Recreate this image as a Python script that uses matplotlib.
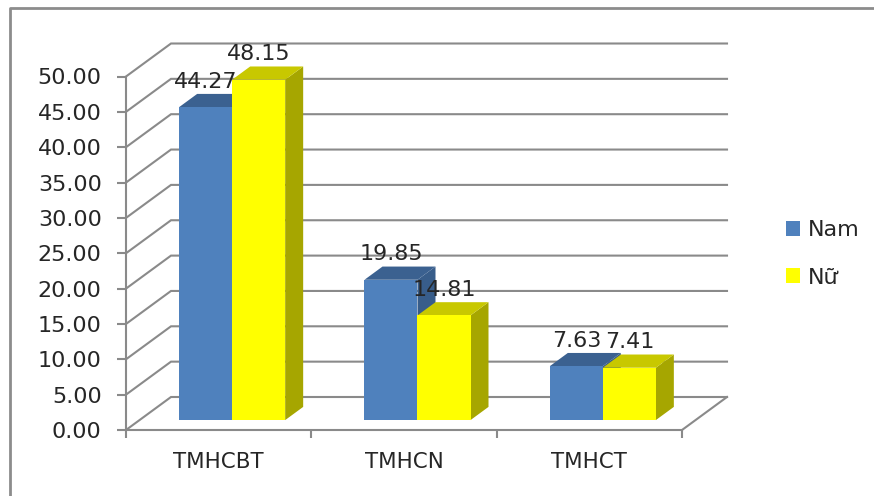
# 3D-style grouped columns: Nam / Nữ by category
import matplotlib
matplotlib.use("Agg")
from matplotlib import pyplot as plt
from matplotlib.lines import Line2D
from matplotlib.patches import Polygon, Patch

categories = ["TMHCBT", "TMHCN", "TMHCT"]
nam = [44.27, 19.85, 7.63]
nu = [48.15, 14.81, 7.41]
yticks = [0, 5, 10, 15, 20, 25, 30, 35, 40, 45, 50]

W, H = 874, 496
GRAY = "#8a8a8a"
TXT = "#262626"
FS = 16

fig = plt.figure(figsize=(W / 100, H / 100), dpi=100)
ax = fig.add_axes([126 / W, (H - 430) / H, 556 / W, 353.5 / H])
ax.set_xlim(0, 3)
ax.set_ylim(0, 50)

# oblique projection: depth d=1 is the back wall, 45px right and 33px up
px_x = 556 / 3
px_y = 353.5 / 50


def proj(x, v, d):
    return x + d * 45 / px_x, v + d * 33 / px_y


# walls and floor
for v in yticks:
    x0, y0 = proj(0, v, 0)
    x1, y1 = proj(0, v, 1)
    x2, y2 = proj(3, v, 1)
    ax.plot([x0, x1, x2], [y0, y1, y2], color=GRAY, lw=1.5, zorder=1, clip_on=False,
            solid_joinstyle="miter")
x0, y0 = proj(3, 0, 0)
x1, y1 = proj(3, 0, 1)
ax.plot([x0, x1], [y0, y1], color=GRAY, lw=1.5, zorder=1, clip_on=False)


def column(x, w, v, front, top, side):
    d0, d1 = 0.3, 0.7
    ax.add_patch(Polygon([proj(x + w, 0, d0), proj(x + w, 0, d1), proj(x + w, v, d1), proj(x + w, v, d0)],
                         fc=side, ec="none", zorder=3, clip_on=False))
    ax.add_patch(Polygon([proj(x, v, d0), proj(x + w, v, d0), proj(x + w, v, d1), proj(x, v, d1)],
                         fc=top, ec="none", zorder=3, clip_on=False))
    ax.add_patch(Polygon([proj(x, 0, d0), proj(x + w, 0, d0), proj(x + w, v, d0), proj(x, v, d0)],
                         fc=front, ec="none", zorder=3, clip_on=False))
    cx, cy = proj(x + w / 2, v, d0)
    ax.annotate(f"{v:.2f}", (cx, cy), xytext=(0, 18.4), textcoords="offset points",
                ha="center", va="center", fontsize=FS, color=TXT, zorder=5)


bar_w = 0.286
for i in range(len(categories)):
    column(i + 0.5 - bar_w, bar_w, nam[i], "#4f81bd", "#3b6190", "#385d8a")
    column(i + 0.5, bar_w, nu[i], "#ffff00", "#c8c800", "#a6a600")

# axes
for s in ["top", "right"]:
    ax.spines[s].set_visible(False)
for s in ["left", "bottom"]:
    ax.spines[s].set_color(GRAY)
    ax.spines[s].set_linewidth(1.5)
    ax.spines[s].set_zorder(2)
ax.patch.set_visible(False)

ax.set_yticks(yticks)
ax.set_yticklabels([f"{v:.2f}" for v in yticks])
ax.tick_params(axis="y", length=6.5, width=1.5, color=GRAY, pad=11, labelsize=FS, labelcolor=TXT)
ax.set_xticks([0, 1, 2, 3])
ax.set_xticklabels([])
ax.set_xticks([0.5, 1.5, 2.5], minor=True)
ax.set_xticklabels(categories, minor=True)
ax.tick_params(axis="x", which="major", length=6, width=1.5, color=GRAY)
ax.tick_params(axis="x", which="minor", length=0, pad=16, labelsize=FS - 0.6, labelcolor=TXT)

# outer chart border, only its top and left edges fall inside the image
fig.add_artist(Line2D([10 / W, 10 / W, 1], [0, (H - 8) / H, (H - 8) / H], color="#8c8c8c", lw=2))

fig.legend(handles=[Patch(fc="#4f81bd", label="Nam"), Patch(fc="#ffff00", label="Nữ")],
           loc="center left", bbox_to_anchor=(786 / W, (H - 254) / H), frameon=False,
           fontsize=FS, labelcolor=TXT, handlelength=0.63, handleheight=0.63,
           handletextpad=0.36, labelspacing=1.22, borderpad=0, borderaxespad=0)

fig.savefig("out.png", dpi=100)
